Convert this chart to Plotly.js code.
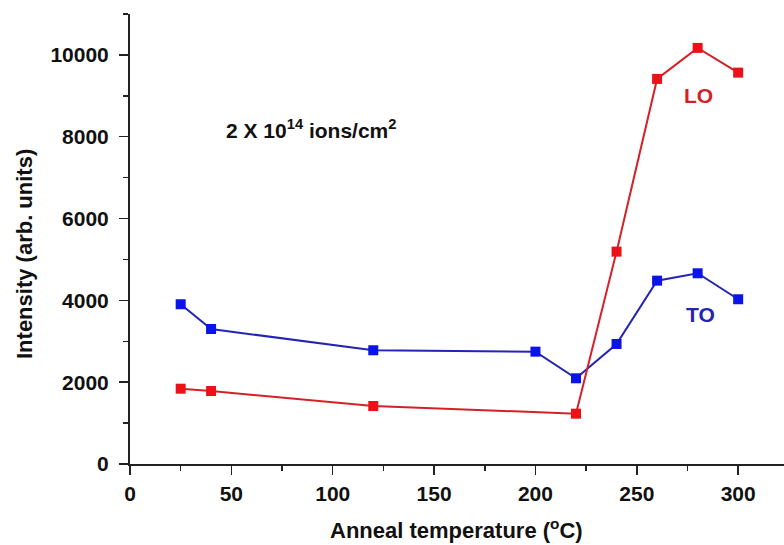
<!DOCTYPE html>
<html>
<head>
<meta charset="utf-8">
<script src="https://cdn.plot.ly/plotly-3.0.1.min.js"></script>
<style>html,body{margin:0;padding:0;background:#fff;}#chart{width:784px;height:545px;}</style>
</head>
<body>
<div id="chart"></div>
<script>
const toTemps = [25, 40, 120, 200, 220, 240, 260, 280, 300];
const toIntensity = [3905, 3300, 2780, 2746, 2095, 2934, 4482, 4662, 4027];
const loTemps = [25, 40, 120, 220, 240, 260, 280, 300];
const loIntensity = [1841, 1785, 1418, 1230, 5191, 9413, 10171, 9567];
const xTicks = [0, 50, 100, 150, 200, 250, 300];
const yTicks = [0, 2000, 4000, 6000, 8000, 10000];

const FONT = 'Liberation Sans, Arial, Helvetica, sans-serif';

const traces = [
  {
    x: toTemps, y: toIntensity, type: 'scatter', mode: 'lines+markers', name: 'TO',
    line: {color: '#2424b4', width: 2},
    marker: {symbol: 'square', size: 10, color: '#0a14e8'}
  },
  {
    x: loTemps, y: loIntensity, type: 'scatter', mode: 'lines+markers', name: 'LO',
    line: {color: '#d22228', width: 2},
    marker: {symbol: 'square', size: 10, color: '#ec1018'}
  }
];

const axisCommon = {
  showgrid: false, zeroline: false, showline: true, linecolor: '#222', linewidth: 2,
  ticks: 'outside', ticklen: 9, tickwidth: 1.5, tickcolor: '#222',
  tickfont: {family: FONT, size: 21, color: '#111', weight: 'bold'},
  minor: {ticks: 'outside', ticklen: 5, tickwidth: 1.5, tickcolor: '#222', showgrid: false}
};

const layout = {
  width: 784, height: 545,
  margin: {l: 130, r: 0, t: 14, b: 81},
  paper_bgcolor: '#fff', plot_bgcolor: '#fff',
  showlegend: false,
  xaxis: Object.assign({}, axisCommon, {
    range: [0, 322.6], tickvals: xTicks, ticktext: xTicks.map(String),
    minor: Object.assign({}, axisCommon.minor, {dtick: 25, tick0: 0}),
    ticklabelstandoff: 1
  }),
  yaxis: Object.assign({}, axisCommon, {
    range: [0, 11000], tickvals: yTicks, ticktext: yTicks.map(String),
    minor: Object.assign({}, axisCommon.minor, {dtick: 1000, tick0: 0}),
    ticklabelstandoff: 6
  }),
  annotations: [
    {text: '2 X 10<sup>14</sup> ions/cm<sup>2</sup>', xref: 'paper', yref: 'paper',
     x: (224 - 130) / 654, y: (464 - 129) / 450, xanchor: 'left', yanchor: 'middle',
     showarrow: false, font: {family: FONT, size: 21, color: '#111', weight: 'bold'}},
    {text: 'LO', xref: 'paper', yref: 'paper', x: (698 - 130) / 654, y: (464 - 96) / 450,
     xanchor: 'center', yanchor: 'middle', showarrow: false,
     font: {family: FONT, size: 21, color: '#d22228', weight: 'bold'}},
    {text: 'TO', xref: 'paper', yref: 'paper', x: (700 - 130) / 654, y: (464 - 314) / 450,
     xanchor: 'center', yanchor: 'middle', showarrow: false,
     font: {family: FONT, size: 21, color: '#2424b4', weight: 'bold'}},
    {text: 'Anneal temperature (<sup>o</sup>C)', xref: 'paper', yref: 'paper',
     x: (456 - 130) / 654, y: (464 - 529) / 450, xanchor: 'center', yanchor: 'middle',
     showarrow: false, font: {family: FONT, size: 22, color: '#111', weight: 'bold'}},
    {text: 'Intensity (arb. units)', xref: 'paper', yref: 'paper', textangle: -90,
     x: (24 - 130) / 654, y: (464 - 254) / 450, xanchor: 'center', yanchor: 'middle',
     showarrow: false, font: {family: FONT, size: 22, color: '#111', weight: 'bold'}}
  ]
};

Plotly.newPlot('chart', traces, layout, {displayModeBar: false, staticPlot: true});
</script>
</body>
</html>
